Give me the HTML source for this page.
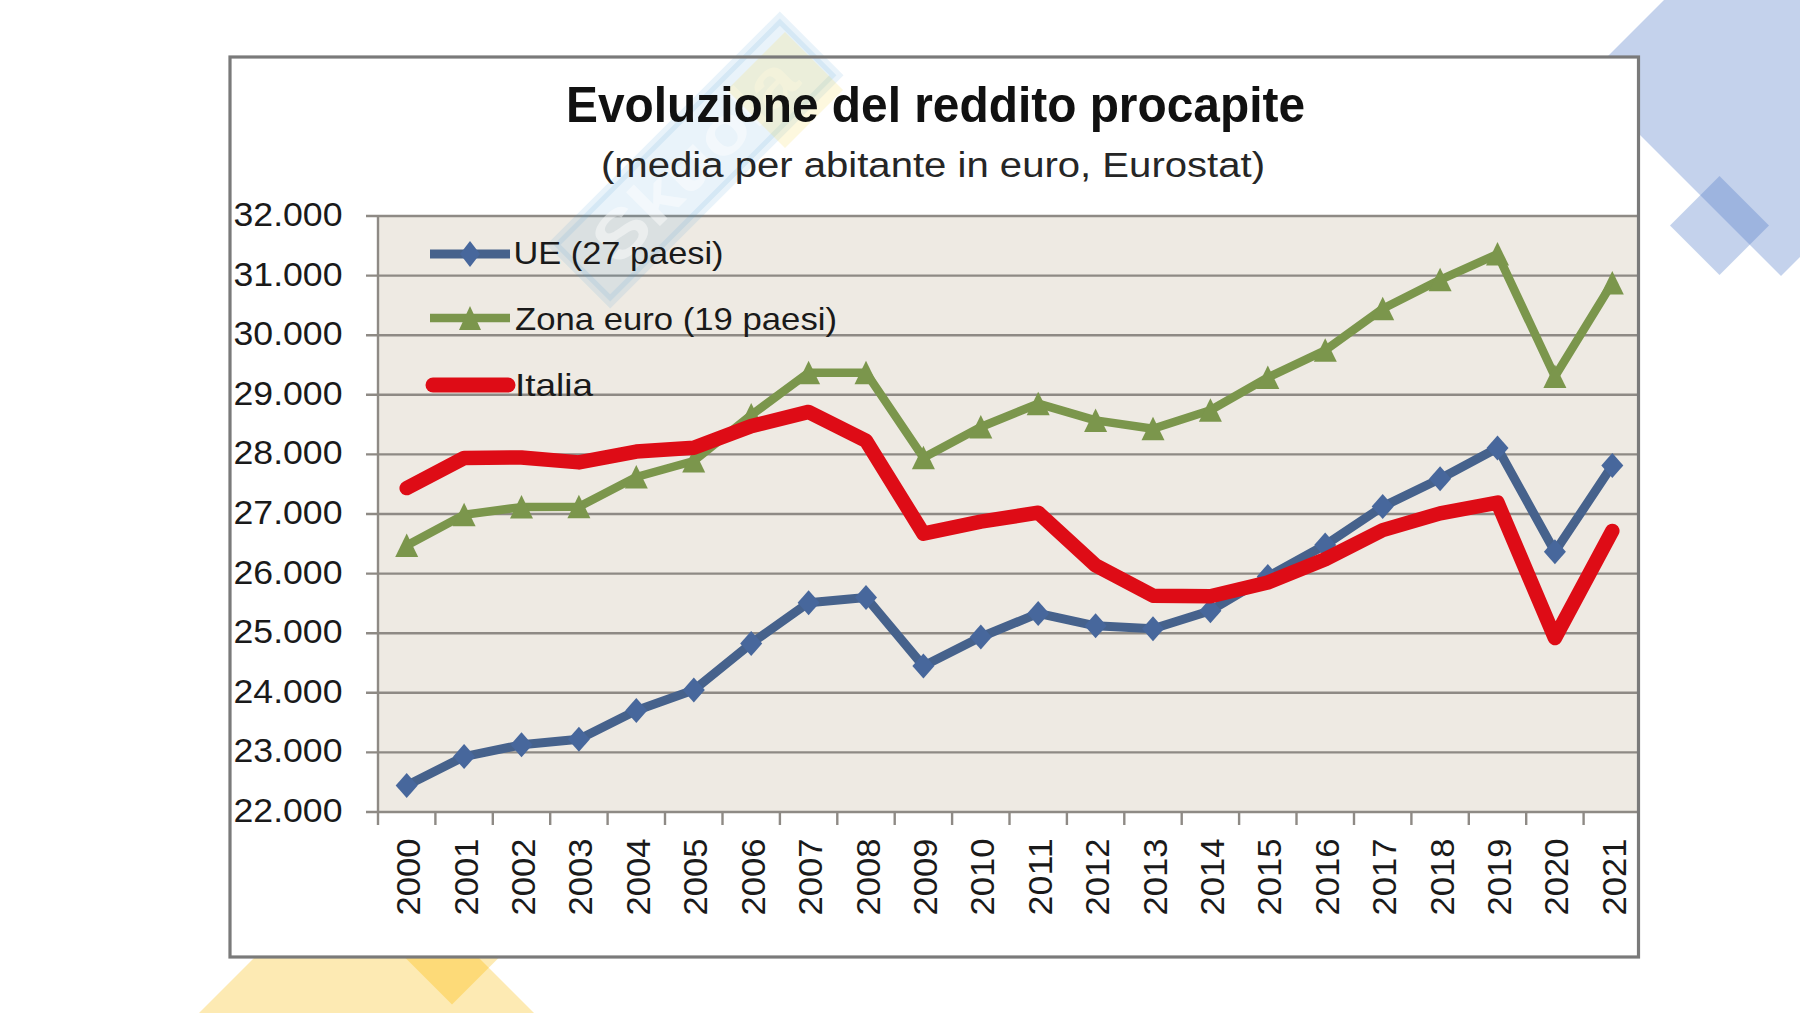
<!DOCTYPE html><html><head><meta charset="utf-8"><style>html,body{margin:0;padding:0;background:#fff;}svg{display:block;}</style></head><body>
<svg width="1800" height="1013" viewBox="0 0 1800 1013" style="font-family:'Liberation Sans', sans-serif">
<rect x="0" y="0" width="1800" height="1013" fill="#fff"/>
<g fill="rgb(82,123,199)" fill-opacity="0.34"><polygon points="1781,-117 1977.5,79.5 1781,276 1584.5,79.5"/><polygon points="1719.5,176 1769,225.5 1719.5,275 1670,225.5"/></g>
<polygon points="366.5,845.5 560,1039 173,1039" fill="#FDEAB3"/><polygon points="452,904.5 502,954.5 452,1004.5 402,954.5" fill="#FDEAB3"/><polygon points="438.75,917.75 488.75,967.75 452,1004.5 402,954.5" fill="#FDDA78"/>
<rect x="230" y="57" width="1408.5" height="900" fill="#fff"/>
<rect x="378.0" y="216.0" width="1260.5" height="596.0" fill="#EEEAE3"/>
<g stroke="#8E8A85" stroke-width="2.4"><line x1="366" y1="216.0" x2="1638.5" y2="216.0"/><line x1="366" y1="275.6" x2="1638.5" y2="275.6"/><line x1="366" y1="335.2" x2="1638.5" y2="335.2"/><line x1="366" y1="394.8" x2="1638.5" y2="394.8"/><line x1="366" y1="454.4" x2="1638.5" y2="454.4"/><line x1="366" y1="514.0" x2="1638.5" y2="514.0"/><line x1="366" y1="573.6" x2="1638.5" y2="573.6"/><line x1="366" y1="633.2" x2="1638.5" y2="633.2"/><line x1="366" y1="692.8" x2="1638.5" y2="692.8"/><line x1="366" y1="752.4" x2="1638.5" y2="752.4"/><line x1="366" y1="812.0" x2="1638.5" y2="812.0"/></g>
<g stroke="#8E8A85" stroke-width="2.4"><line x1="378.0" y1="216.0" x2="378.0" y2="825.0"/><line x1="435.4" y1="812.0" x2="435.4" y2="825.0"/><line x1="492.8" y1="812.0" x2="492.8" y2="825.0"/><line x1="550.2" y1="812.0" x2="550.2" y2="825.0"/><line x1="607.6" y1="812.0" x2="607.6" y2="825.0"/><line x1="665.0" y1="812.0" x2="665.0" y2="825.0"/><line x1="722.5" y1="812.0" x2="722.5" y2="825.0"/><line x1="779.9" y1="812.0" x2="779.9" y2="825.0"/><line x1="837.3" y1="812.0" x2="837.3" y2="825.0"/><line x1="894.7" y1="812.0" x2="894.7" y2="825.0"/><line x1="952.1" y1="812.0" x2="952.1" y2="825.0"/><line x1="1009.5" y1="812.0" x2="1009.5" y2="825.0"/><line x1="1066.9" y1="812.0" x2="1066.9" y2="825.0"/><line x1="1124.3" y1="812.0" x2="1124.3" y2="825.0"/><line x1="1181.7" y1="812.0" x2="1181.7" y2="825.0"/><line x1="1239.1" y1="812.0" x2="1239.1" y2="825.0"/><line x1="1296.5" y1="812.0" x2="1296.5" y2="825.0"/><line x1="1354.0" y1="812.0" x2="1354.0" y2="825.0"/><line x1="1411.4" y1="812.0" x2="1411.4" y2="825.0"/><line x1="1468.8" y1="812.0" x2="1468.8" y2="825.0"/><line x1="1526.2" y1="812.0" x2="1526.2" y2="825.0"/><line x1="1583.6" y1="812.0" x2="1583.6" y2="825.0"/></g>
<g font-size="32.5" fill="#1a1a1a"><text x="342.5" y="226.0" text-anchor="end" textLength="109" lengthAdjust="spacingAndGlyphs">32.000</text><text x="342.5" y="285.6" text-anchor="end" textLength="109" lengthAdjust="spacingAndGlyphs">31.000</text><text x="342.5" y="345.2" text-anchor="end" textLength="109" lengthAdjust="spacingAndGlyphs">30.000</text><text x="342.5" y="404.8" text-anchor="end" textLength="109" lengthAdjust="spacingAndGlyphs">29.000</text><text x="342.5" y="464.4" text-anchor="end" textLength="109" lengthAdjust="spacingAndGlyphs">28.000</text><text x="342.5" y="524.0" text-anchor="end" textLength="109" lengthAdjust="spacingAndGlyphs">27.000</text><text x="342.5" y="583.6" text-anchor="end" textLength="109" lengthAdjust="spacingAndGlyphs">26.000</text><text x="342.5" y="643.2" text-anchor="end" textLength="109" lengthAdjust="spacingAndGlyphs">25.000</text><text x="342.5" y="702.8" text-anchor="end" textLength="109" lengthAdjust="spacingAndGlyphs">24.000</text><text x="342.5" y="762.4" text-anchor="end" textLength="109" lengthAdjust="spacingAndGlyphs">23.000</text><text x="342.5" y="822.0" text-anchor="end" textLength="109" lengthAdjust="spacingAndGlyphs">22.000</text></g>
<g font-size="34" fill="#1a1a1a"><text transform="translate(420.2,838.4) rotate(-90)" x="0" y="0" text-anchor="end" textLength="77" lengthAdjust="spacingAndGlyphs">2000</text><text transform="translate(477.6,838.4) rotate(-90)" x="0" y="0" text-anchor="end" textLength="77" lengthAdjust="spacingAndGlyphs">2001</text><text transform="translate(535.0,838.4) rotate(-90)" x="0" y="0" text-anchor="end" textLength="77" lengthAdjust="spacingAndGlyphs">2002</text><text transform="translate(592.4,838.4) rotate(-90)" x="0" y="0" text-anchor="end" textLength="77" lengthAdjust="spacingAndGlyphs">2003</text><text transform="translate(649.8,838.4) rotate(-90)" x="0" y="0" text-anchor="end" textLength="77" lengthAdjust="spacingAndGlyphs">2004</text><text transform="translate(707.2,838.4) rotate(-90)" x="0" y="0" text-anchor="end" textLength="77" lengthAdjust="spacingAndGlyphs">2005</text><text transform="translate(764.7,838.4) rotate(-90)" x="0" y="0" text-anchor="end" textLength="77" lengthAdjust="spacingAndGlyphs">2006</text><text transform="translate(822.1,838.4) rotate(-90)" x="0" y="0" text-anchor="end" textLength="77" lengthAdjust="spacingAndGlyphs">2007</text><text transform="translate(879.5,838.4) rotate(-90)" x="0" y="0" text-anchor="end" textLength="77" lengthAdjust="spacingAndGlyphs">2008</text><text transform="translate(936.9,838.4) rotate(-90)" x="0" y="0" text-anchor="end" textLength="77" lengthAdjust="spacingAndGlyphs">2009</text><text transform="translate(994.3,838.4) rotate(-90)" x="0" y="0" text-anchor="end" textLength="77" lengthAdjust="spacingAndGlyphs">2010</text><text transform="translate(1051.7,838.4) rotate(-90)" x="0" y="0" text-anchor="end" textLength="77" lengthAdjust="spacingAndGlyphs">2011</text><text transform="translate(1109.1,838.4) rotate(-90)" x="0" y="0" text-anchor="end" textLength="77" lengthAdjust="spacingAndGlyphs">2012</text><text transform="translate(1166.5,838.4) rotate(-90)" x="0" y="0" text-anchor="end" textLength="77" lengthAdjust="spacingAndGlyphs">2013</text><text transform="translate(1223.9,838.4) rotate(-90)" x="0" y="0" text-anchor="end" textLength="77" lengthAdjust="spacingAndGlyphs">2014</text><text transform="translate(1281.3,838.4) rotate(-90)" x="0" y="0" text-anchor="end" textLength="77" lengthAdjust="spacingAndGlyphs">2015</text><text transform="translate(1338.8,838.4) rotate(-90)" x="0" y="0" text-anchor="end" textLength="77" lengthAdjust="spacingAndGlyphs">2016</text><text transform="translate(1396.2,838.4) rotate(-90)" x="0" y="0" text-anchor="end" textLength="77" lengthAdjust="spacingAndGlyphs">2017</text><text transform="translate(1453.6,838.4) rotate(-90)" x="0" y="0" text-anchor="end" textLength="77" lengthAdjust="spacingAndGlyphs">2018</text><text transform="translate(1511.0,838.4) rotate(-90)" x="0" y="0" text-anchor="end" textLength="77" lengthAdjust="spacingAndGlyphs">2019</text><text transform="translate(1568.4,838.4) rotate(-90)" x="0" y="0" text-anchor="end" textLength="77" lengthAdjust="spacingAndGlyphs">2020</text><text transform="translate(1625.8,838.4) rotate(-90)" x="0" y="0" text-anchor="end" textLength="77" lengthAdjust="spacingAndGlyphs">2021</text></g>
<g transform="translate(695,160) rotate(-45)"><rect x="-160" y="-40" width="320" height="80" fill="#4a9fd8" fill-opacity="0.12" stroke="#4a9fd8" stroke-opacity="0.12" stroke-width="10"/><text x="0" y="22" text-anchor="middle" font-size="66" font-weight="bold" fill="#fff" fill-opacity="0.45" textLength="260" lengthAdjust="spacingAndGlyphs">Skuola</text></g><polygon points="785,32 843,90 785,148 727,90" fill="#f5d94a" fill-opacity="0.18"/>
<text x="566" y="121.6" font-size="50" font-weight="bold" fill="#111" textLength="739" lengthAdjust="spacingAndGlyphs">Evoluzione del reddito procapite</text>
<text x="601" y="176.6" font-size="35.5" fill="#262626" textLength="664" lengthAdjust="spacingAndGlyphs">(media per abitante in euro, Eurostat)</text>
<polyline points="406.7,785.5 464.1,756.6 521.5,744.8 578.9,739.2 636.3,710.4 693.8,690.1 751.2,643.4 808.6,602.7 866.0,597.4 923.4,666.0 980.8,637.0 1038.2,613.4 1095.6,625.8 1153.0,628.8 1210.4,610.7 1267.8,576.6 1325.2,545.0 1382.7,506.6 1440.1,478.7 1497.5,448.0 1554.9,551.8 1612.3,465.6" fill="none" stroke="#46628C" stroke-width="9" stroke-linejoin="round"/>
<polyline points="406.7,545.6 464.1,514.8 521.5,507.1 578.9,506.8 636.3,477.0 693.8,461.0 751.2,415.1 808.6,372.7 866.0,372.7 923.4,457.7 980.8,427.0 1038.2,403.7 1095.6,420.4 1153.0,428.8 1210.4,410.3 1267.8,377.5 1325.2,350.3 1382.7,308.7 1440.1,279.8 1497.5,254.1 1554.9,376.5 1612.3,283.0" fill="none" stroke="#7B964C" stroke-width="8.5" stroke-linejoin="round"/>
<g fill="#47679C"><polygon points="406.7,773.0 417.7,785.5 406.7,798.0 395.7,785.5"/><polygon points="464.1,744.1 475.1,756.6 464.1,769.1 453.1,756.6"/><polygon points="521.5,732.3 532.5,744.8 521.5,757.3 510.5,744.8"/><polygon points="578.9,726.7 589.9,739.2 578.9,751.7 567.9,739.2"/><polygon points="636.3,697.9 647.3,710.4 636.3,722.9 625.3,710.4"/><polygon points="693.8,677.6 704.8,690.1 693.8,702.6 682.8,690.1"/><polygon points="751.2,630.9 762.2,643.4 751.2,655.9 740.2,643.4"/><polygon points="808.6,590.2 819.6,602.7 808.6,615.2 797.6,602.7"/><polygon points="866.0,584.9 877.0,597.4 866.0,609.9 855.0,597.4"/><polygon points="923.4,653.5 934.4,666.0 923.4,678.5 912.4,666.0"/><polygon points="980.8,624.5 991.8,637.0 980.8,649.5 969.8,637.0"/><polygon points="1038.2,600.9 1049.2,613.4 1038.2,625.9 1027.2,613.4"/><polygon points="1095.6,613.3 1106.6,625.8 1095.6,638.3 1084.6,625.8"/><polygon points="1153.0,616.3 1164.0,628.8 1153.0,641.3 1142.0,628.8"/><polygon points="1210.4,598.2 1221.4,610.7 1210.4,623.2 1199.4,610.7"/><polygon points="1267.8,564.1 1278.8,576.6 1267.8,589.1 1256.8,576.6"/><polygon points="1325.2,532.5 1336.2,545.0 1325.2,557.5 1314.2,545.0"/><polygon points="1382.7,494.1 1393.7,506.6 1382.7,519.0 1371.7,506.6"/><polygon points="1440.1,466.2 1451.1,478.7 1440.1,491.2 1429.1,478.7"/><polygon points="1497.5,435.5 1508.5,448.0 1497.5,460.5 1486.5,448.0"/><polygon points="1554.9,539.3 1565.9,551.8 1554.9,564.3 1543.9,551.8"/><polygon points="1612.3,453.1 1623.3,465.6 1612.3,478.1 1601.3,465.6"/></g>
<g fill="#7B964C"><polygon points="406.7,533.6 418.2,557.1 395.2,557.1"/><polygon points="464.1,502.8 475.6,526.3 452.6,526.3"/><polygon points="521.5,495.1 533.0,518.6 510.0,518.6"/><polygon points="578.9,494.8 590.4,518.3 567.4,518.3"/><polygon points="636.3,465.0 647.8,488.5 624.8,488.5"/><polygon points="693.8,449.0 705.2,472.5 682.2,472.5"/><polygon points="751.2,403.1 762.7,426.6 739.7,426.6"/><polygon points="808.6,360.7 820.1,384.2 797.1,384.2"/><polygon points="866.0,360.7 877.5,384.2 854.5,384.2"/><polygon points="923.4,445.7 934.9,469.2 911.9,469.2"/><polygon points="980.8,415.0 992.3,438.5 969.3,438.5"/><polygon points="1038.2,391.7 1049.7,415.2 1026.7,415.2"/><polygon points="1095.6,408.4 1107.1,431.9 1084.1,431.9"/><polygon points="1153.0,416.8 1164.5,440.3 1141.5,440.3"/><polygon points="1210.4,398.3 1221.9,421.8 1198.9,421.8"/><polygon points="1267.8,365.5 1279.3,389.0 1256.3,389.0"/><polygon points="1325.2,338.3 1336.8,361.8 1313.8,361.8"/><polygon points="1382.7,296.7 1394.2,320.2 1371.2,320.2"/><polygon points="1440.1,267.8 1451.6,291.3 1428.6,291.3"/><polygon points="1497.5,242.1 1509.0,265.6 1486.0,265.6"/><polygon points="1554.9,364.5 1566.4,388.0 1543.4,388.0"/><polygon points="1612.3,271.0 1623.8,294.5 1600.8,294.5"/></g>
<polyline points="406.7,488.1 464.1,458.0 521.5,457.5 578.9,462.4 636.3,451.6 693.8,447.7 751.2,426.1 808.6,411.9 866.0,440.7 923.4,533.6 980.8,521.7 1038.2,512.7 1095.6,565.3 1153.0,595.7 1210.4,596.2 1267.8,582.5 1325.2,559.3 1382.7,530.1 1440.1,513.4 1497.5,502.6 1554.9,638.0 1612.3,530.9" fill="none" stroke="#DE0C16" stroke-width="14.5" stroke-linejoin="round" stroke-linecap="round"/>
<line x1="430" y1="254" x2="510" y2="254" stroke="#46628C" stroke-width="9"/>
<polygon points="470,241 480,254 470,267 460,254" fill="#47679C"/>
<line x1="430" y1="318" x2="510" y2="318" stroke="#7B964C" stroke-width="8.5"/>
<polygon points="470,306 481,330 459,330" fill="#7B964C"/>
<line x1="433" y1="385" x2="508" y2="385" stroke="#DE0C16" stroke-width="15" stroke-linecap="round"/>
<g font-size="32" fill="#1a1a1a"><text x="513.5" y="264" textLength="210" lengthAdjust="spacingAndGlyphs">UE (27 paesi)</text><text x="515" y="330" textLength="322" lengthAdjust="spacingAndGlyphs">Zona euro (19 paesi)</text><text x="515" y="396" textLength="78" lengthAdjust="spacingAndGlyphs">Italia</text></g>
<rect x="230" y="57" width="1408.5" height="900" fill="none" stroke="#7A7A7A" stroke-width="3.2"/>
</svg></body></html>
